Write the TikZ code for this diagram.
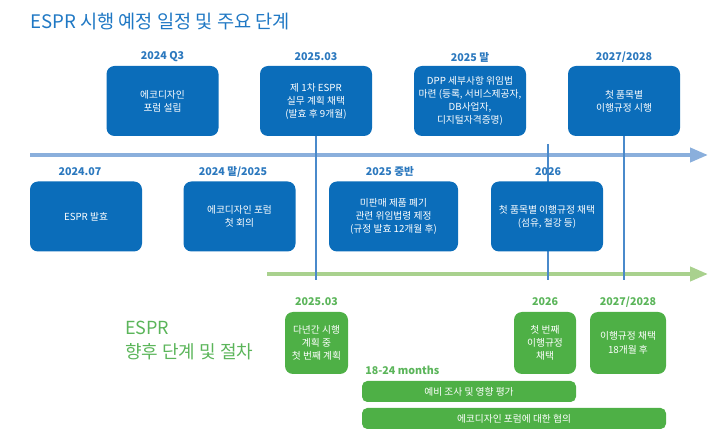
\documentclass[tikz,border=0pt]{standalone}
\usepackage{fontspec}
\setmainfont{Noto Sans CJK KR}
\usetikzlibrary{arrows.meta,positioning}

\definecolor{boxblue}{HTML}{0B6DBA}
\definecolor{axisblue}{HTML}{8AAFDC}
\definecolor{labelblue}{HTML}{2B78BE}
\definecolor{titleblue}{HTML}{1F78C4}
\definecolor{markblue}{HTML}{4A8ACB}
\definecolor{boxgreen}{HTML}{4EB046}
\definecolor{axisgreen}{HTML}{A9D18E}
\definecolor{labelgreen}{HTML}{5BB55A}

\tikzset{
	bluebox/.style={fill=boxblue, rounded corners=6pt, text=white, align=center,
		minimum width=84pt, minimum height=52.5pt, inner sep=1pt,
		font=\fontsize{7.3}{9.75}\selectfont},
	greenbox/.style={fill=boxgreen, rounded corners=6pt, text=white, align=center,
		minimum height=46.5pt, inner sep=1pt,
		font=\fontsize{7.3}{10}\selectfont},
	greenbar/.style={fill=boxgreen, rounded corners=4pt, text=white,
		minimum height=15.75pt, inner sep=1pt,
		font=\fontsize{7.3}{9}\selectfont},
	bluelabel/.style={text=labelblue, font=\fontsize{8}{9}\selectfont\bfseries, inner sep=0pt},
	greenlabel/.style={text=labelgreen, font=\fontsize{8}{9}\selectfont\bfseries, inner sep=0pt},
	axis/.style={line width=3pt, -{Triangle[length=13.5pt,width=10.5pt]}},
	marker/.style={draw=markblue, line width=0.9pt}
}

\begin{document}
\begin{tikzpicture}[x=0.75pt, y=-0.75pt]
			%%%%% START %%%%%
			\useasboundingbox (0, 0) rectangle (725, 441);
			
			\node[anchor=west, text=titleblue, font=\fontsize{14}{16}\selectfont, inner sep=0pt] (title) at (30, 22) {ESPR 시행 예정 일정 및 주요 단계};
			
			% upper row
			\node[bluebox] (forum) at (162.5, 101) {에코디자인\\포럼 설립};
			\node[bluebox] (plan) at (316, 101) {제 1차 ESPR\\실무 계획 채택\\(발효 후 9개월)};
			\node[bluebox] (dpp) at (470, 101) {DPP 세부사항 위임법\\마련 (등록, 서비스제공자,\\DB사업자,\\디지털자격증명)};
			\node[bluebox] (apply) at (624, 101) {첫 품목별\\이행규정 시행};
			
			\node[bluelabel] (forum-y) at (162.5, 57) {2024 Q3};
			\node[bluelabel] (plan-y) at (316, 57) {2025.03};
			\node[bluelabel] (dpp-y) at (470, 57) {2025 말};
			\node[bluelabel] (apply-y) at (624, 57) {2027/2028};
			
			% time axes
			\coordinate (blue-start) at (30, 155);
			\coordinate (blue-end) at (708, 155);
			\coordinate (green-start) at (267, 274);
			\coordinate (green-end) at (708, 274);
			\draw[axis, draw=axisblue, fill=axisblue] (blue-start) -- (blue-end);
			\draw[axis, draw=axisgreen, fill=axisgreen] (green-start) -- (green-end);
			
			% markers
			\coordinate (plan-foot) at (316, 280);
			\coordinate (adopt-top) at (548, 144);
			\coordinate (adopt-foot) at (548, 280);
			\coordinate (apply-foot) at (624, 280);
			\draw[marker] (plan.south) -- (plan-foot);
			\draw[marker] (adopt-top) -- (adopt-foot);
			\draw[marker] (apply.south) -- (apply-foot);
			
			% lower row
			\node[bluebox] (publish) at (86, 216.5) {ESPR 발효};
			\node[bluebox] (meeting) at (239.5, 216.5) {에코디자인 포럼\\첫 회의};
			\node[bluebox, minimum width=96.75pt] (unsold) at (393.5, 216.5) {미판매 제품 폐기\\관련 위임법령 제정\\(규정 발효 12개월 후)};
			\node[bluebox] (adopt) at (547, 216.5) {첫 품목별 이행규정 채택\\(섬유, 철강 등)};
			
			\node[bluelabel] (publish-y) at (80, 172) {2024.07};
			\node[bluelabel] (meeting-y) at (233, 172) {2024 말/2025};
			\node[bluelabel] (unsold-y) at (390, 172) {2025 중반};
			\node[bluelabel] (adopt-y) at (548, 172) {2026};
			
			% next steps
			\node[anchor=west, align=left, text=labelgreen, font=\fontsize{13.5}{18}\selectfont, inner sep=0pt] (steps) at (125, 340) {ESPR\\향후 단계 및 절차};
			
			\node[greenbox, minimum width=47.25pt] (multi) at (316.5, 343) {다년간 시행\\계획 중\\첫 번째 계획};
			\node[greenbox, minimum width=46.5pt] (first) at (545, 343) {첫 번째\\이행규정\\채택};
			\node[greenbox, minimum width=57pt] (later) at (628, 343) {이행규정 채택\\18개월 후};
			
			\node[greenlabel] (multi-y) at (316.5, 302) {2025.03};
			\node[greenlabel] (first-y) at (545, 302) {2026};
			\node[greenlabel] (later-y) at (628, 302) {2027/2028};
			
			\node[greenlabel, anchor=west] (months) at (365, 370) {18-24 months};
			\node[greenbar, minimum width=160.5pt] (study) at (469, 391.5) {예비 조사 및 영향 평가};
			\node[greenbar, minimum width=228pt] (consult) at (514, 418.5) {에코디자인 포럼에 대한 협의};
			
			%%%%% END %%%%%
\end{tikzpicture}
\end{document}
